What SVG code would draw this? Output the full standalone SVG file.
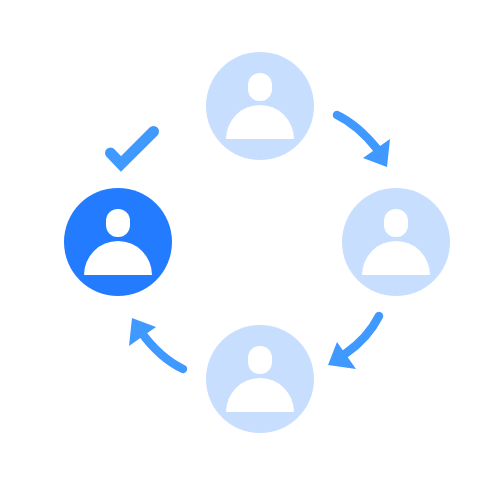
<svg xmlns="http://www.w3.org/2000/svg" width="500" height="500" viewBox="0 0 500 500">
<style>
.light{fill:#c7deff}.dark{fill:#237bff}.w{fill:#fff}
.line{fill:none;stroke:#3f99ff;stroke-width:8.500;stroke-linecap:round}
.head{fill:#3f99ff}
</style>
<defs>
<g id="person"><rect class="w" x="-12" y="-33" width="24" height="28" rx="11.5" ry="12"/><path class="w" d="M-34 33A34 34 0 0 1 34 33Z"/></g>
</defs>
<rect width="500" height="500" fill="#fff"/>
<g id="node-top"><circle class="light" cx="260" cy="106" r="54"/><use href="#person" x="260" y="106"/></g>
<g id="node-right"><circle class="light" cx="396" cy="242" r="54"/><use href="#person" x="396" y="242"/></g>
<g id="node-bottom"><circle class="light" cx="260" cy="379" r="54"/><use href="#person" x="260" y="379"/></g>
<g id="node-left"><circle class="dark" cx="118" cy="242" r="54"/><use href="#person" x="118" y="242"/></g>
<g id="check"><path d="M110.500 153L121 164L153.500 131.500" fill="none" stroke="#3f99ff" stroke-width="11" stroke-linecap="round" stroke-linejoin="miter"/></g>
<g id="connectors">
<path class="line" d="M337 115Q358 125 378 150"/><polygon class="head" points="390,139 387,167 363,158"/>
<path class="line" d="M379 316Q368 338 345 354"/><polygon class="head" points="337,342 328,365 356,369"/>
<path class="line" d="M183 369Q160 358 141 332"/><polygon class="head" points="132,318 156,327 129,346"/>
</g>
</svg>
